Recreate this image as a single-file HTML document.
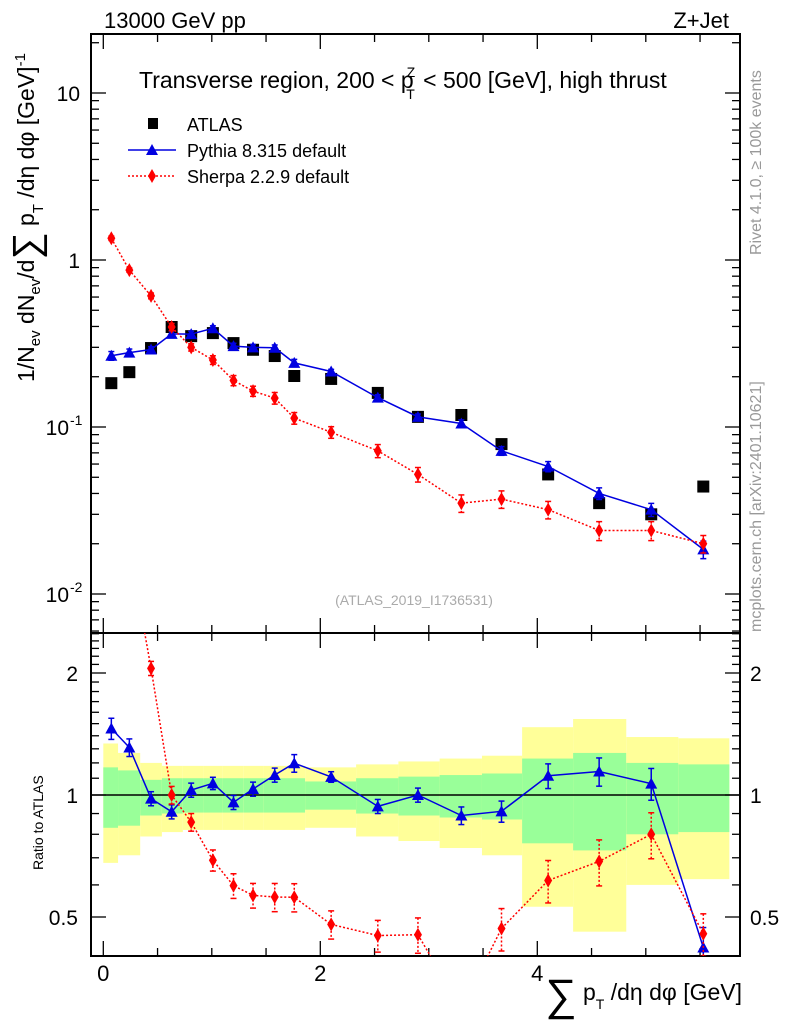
<!DOCTYPE html>
<html><head><meta charset="utf-8"><style>
body{margin:0;background:#fff;}
svg{font-family:"Liberation Sans",sans-serif;}
</style></head><body>
<svg id="c" width="786" height="1024" viewBox="0 0 786 1024" xmlns="http://www.w3.org/2000/svg">
<g id="bands"></g><g id="grid"></g><g id="marks"></g>
<text x="104" y="28" font-size="22">13000 GeV pp</text>
<text x="729" y="28" font-size="22" text-anchor="end">Z+Jet</text>
<text x="139" y="88" font-size="23">Transverse region, 200 &lt; p<tspan font-size="14" dy="-11" dx="-7">Z</tspan><tspan font-size="14" dy="22" dx="-9">T</tspan><tspan dy="-11" dx="2"> &lt; 500 [GeV], high thrust</tspan></text>
<g>
<rect x="148" y="118" width="10" height="11" fill="#000"/>
<text x="187" y="131" font-size="18">ATLAS</text>
<line x1="128" y1="150" x2="176" y2="150" stroke="#0000e0" stroke-width="1.5"/>
<polygon points="146,155 158,155 152,144" fill="#0000e0"/>
<text x="187" y="157" font-size="18">Pythia 8.315 default</text>
<line x1="128" y1="176" x2="176" y2="176" stroke="#f00" stroke-width="1.5" stroke-dasharray="2,2"/>
<polygon points="152,169 156,176 152,183 148,176" fill="#f00"/>
<text x="187" y="183" font-size="18">Sherpa 2.2.9 default</text>
</g>
<text x="414" y="605" font-size="14" fill="#aaa" text-anchor="middle">(ATLAS_2019_I1736531)</text>
<text transform="translate(761,255) rotate(-90)" font-size="16" fill="#999">Rivet 4.1.0, ≥ 100k events</text>
<text transform="translate(761,632) rotate(-90)" font-size="16" fill="#999">mcplots.cern.ch [arXiv:2401.10621]</text>
<text transform="translate(34,382) rotate(-90)" font-size="23">1/N<tspan font-size="15" dy="6">ev</tspan><tspan dy="-6"> dN</tspan><tspan font-size="15" dy="6">ev</tspan><tspan dy="-6">/d</tspan><tspan font-size="38" dy="5">∑</tspan><tspan dy="-5"> p</tspan><tspan font-size="15" dy="9">T</tspan><tspan dy="-9"> /dη dφ  [GeV]</tspan><tspan font-size="15" dy="-9">-1</tspan></text>
<text transform="translate(43,870) rotate(-90)" font-size="14">Ratio to ATLAS</text>
<text x="742" y="1000" font-size="23" text-anchor="end"><tspan font-size="44" dy="10">∑</tspan><tspan dy="-10"> p</tspan><tspan font-size="14" dy="9">T</tspan><tspan dy="-9"> /dη dφ [GeV]</tspan></text>
</svg>
<script>
const edges=[0,0.136,0.34,0.54,0.733,0.92,1.10,1.29,1.48,1.67,1.86,2.33,2.72,3.10,3.49,3.86,4.33,4.82,5.30,5.77];
const xs=[0.074,0.24,0.44,0.63,0.81,1.01,1.20,1.38,1.58,1.76,2.10,2.53,2.90,3.30,3.67,4.10,4.57,5.05,5.53];
const atlas=[0.183,0.213,0.297,0.397,0.35,0.365,0.318,0.29,0.266,0.202,0.194,0.16,0.115,0.118,0.079,0.052,0.035,0.030,0.044];
const pythia=[0.267,0.279,0.291,0.361,0.36,0.39,0.305,0.30,0.298,0.242,0.215,0.150,0.115,0.105,0.072,0.058,0.040,0.032,0.0185];
const pythiaErr=[0.06,0.05,0.04,0.04,0.04,0.035,0.04,0.04,0.04,0.05,0.03,0.04,0.04,0.05,0.06,0.07,0.08,0.09,0.12];
const sherpa=[1.35,0.87,0.61,0.397,0.30,0.252,0.19,0.164,0.149,0.113,0.093,0.072,0.052,0.035,0.037,0.032,0.024,0.024,0.020];
const sherpaErr=[0.03,0.03,0.04,0.05,0.05,0.06,0.07,0.07,0.08,0.08,0.08,0.09,0.10,0.12,0.12,0.12,0.13,0.13,0.12];
const yelHi=[1.34,1.27,1.20,1.18,1.18,1.18,1.18,1.18,1.18,1.18,1.17,1.19,1.21,1.23,1.25,1.47,1.54,1.39,1.38];
const yelLo=[0.68,0.71,0.79,0.81,0.82,0.82,0.82,0.82,0.82,0.82,0.83,0.79,0.77,0.74,0.71,0.53,0.46,0.60,0.62];
const grnHi=[1.17,1.15,1.09,1.10,1.10,1.10,1.10,1.10,1.10,1.10,1.08,1.10,1.11,1.12,1.13,1.23,1.27,1.20,1.19];
const grnLo=[0.83,0.84,0.89,0.90,0.905,0.905,0.905,0.905,0.905,0.905,0.92,0.90,0.89,0.88,0.87,0.76,0.73,0.80,0.81];
const X0=103.3,PX=108.5,L=91,R=740,T=34,MB=633,RB=956;
const sx=v=>X0+v*PX;
const sy=v=>260-Math.log10(v)*167;
const ry=v=>795-Math.log2(v)*122;
const NS="http://www.w3.org/2000/svg";
function mk(tag,attrs,parent){const e=document.createElementNS(NS,tag);for(const k in attrs)e.setAttribute(k,attrs[k]);document.getElementById(parent).appendChild(e);return e;}
for(let i=0;i<xs.length;i++){
 const x1=sx(edges[i]),x2=sx(edges[i+1]);
 let b=mk('rect',{x:x1,y:ry(yelHi[i]),width:x2-x1,height:ry(yelLo[i])-ry(yelHi[i]),fill:'#ffff99'},'bands');
 
 
 b=mk('rect',{x:x1,y:ry(grnHi[i]),width:x2-x1,height:ry(grnLo[i])-ry(grnHi[i]),fill:'#99ff99'},'bands');
 
 
}
const g='grid';
mk('rect',{x:L,y:T,width:R-L,height:MB-T,fill:'none',stroke:'#000','stroke-width':2},g);
mk('rect',{x:L,y:MB,width:R-L,height:RB-MB,fill:'none',stroke:'#000','stroke-width':2},g);
mk('line',{x1:L,x2:R,y1:ry(1),y2:ry(1),stroke:'#000','stroke-width':1.5},g);
for(let v=0;v<=5.75;v+=0.5){const x=sx(v),maj=Math.abs(v%2)<1e-6,len=maj?15:8;
 for(const [a,b] of [[T,T+len],[MB,MB-len],[MB,MB+len],[RB,RB-len]]) mk('line',{x1:x,x2:x,y1:a,y2:b,stroke:'#000','stroke-width':1.3},g);
 if(maj){const t=mk('text',{x:x,y:981,'font-size':22,'text-anchor':'middle'},g);t.textContent=v;}}
for(let d=-3;d<=1;d++)for(let m=1;m<=9;m++){const v=m*Math.pow(10,d),y=sy(v);if(y<T||y>MB)continue;const len=m==1?15:8;
 mk('line',{x1:L,x2:L+len,y1:y,y2:y,stroke:'#000','stroke-width':1.3},g);mk('line',{x1:R,x2:R-len,y1:y,y2:y,stroke:'#000','stroke-width':1.3},g);}
[[10,'10'],[1,'1']].forEach(([v,s])=>{const t=mk('text',{x:80,y:sy(v)+8,'font-size':21,'text-anchor':'end'},g);t.textContent=s;});
[[0.1,'-1'],[0.01,'-2']].forEach(([v,s])=>{const t=mk('text',{x:69,y:sy(v)+8,'font-size':21,'text-anchor':'end'},g);t.textContent='10';const e=mk('text',{x:70,y:sy(v)-2,'font-size':14},g);e.textContent=s;});
for(let v=0.4;v<=2.51;v+=0.1){const y=ry(v);if(y<MB||y>RB)continue;const maj=[0.5,1,2].some(q=>Math.abs(q-v)<1e-6),len=maj?15:8;
 mk('line',{x1:L,x2:L+len,y1:y,y2:y,stroke:'#000','stroke-width':1.3},g);mk('line',{x1:R,x2:R-len,y1:y,y2:y,stroke:'#000','stroke-width':1.3},g);
 if(maj){const s=Math.abs(v-0.5)<1e-6?'0.5':String(Math.round(v));for(const [xx,an] of [[78,'end'],[750,'start']]){const t=mk('text',{x:xx,y:y+8,'font-size':21,'text-anchor':an},g);t.textContent=s;}}}
const defs=mk('defs',{},'marks');
const c1=document.createElementNS(NS,'clipPath');c1.id='cm';defs.appendChild(c1);const r1=document.createElementNS(NS,'rect');r1.setAttribute('x',L);r1.setAttribute('y',T);r1.setAttribute('width',R-L);r1.setAttribute('height',MB-T);c1.appendChild(r1);
const c2=document.createElementNS(NS,'clipPath');c2.id='cr';defs.appendChild(c2);const r2=document.createElementNS(NS,'rect');r2.setAttribute('x',L);r2.setAttribute('y',MB);r2.setAttribute('width',R-L);r2.setAttribute('height',RB-MB);c2.appendChild(r2);
const gm=mk('g',{'clip-path':'url(#cm)',id:'gm'},'marks');
const gr=mk('g',{'clip-path':'url(#cr)',id:'gr'},'marks');
function series(vals,err,yf,col,dash,shape,par,name){
 const pts=xs.map((x,i)=>sx(x)+','+yf(vals[i])).join(' ');
 const pl=mk('polyline',{points:pts,fill:'none',stroke:col,'stroke-width':1.5,'stroke-dasharray':dash},par);
 
 
 xs.forEach((x,i)=>{const X=sx(x),Y=yf(vals[i]),y1=yf(vals[i]*(1+err[i])),y2=yf(vals[i]*(1-err[i]));
  mk('line',{x1:X,x2:X,y1:y1,y2:y2,stroke:col,'stroke-width':1.5,'stroke-dasharray':dash},par);
  mk('line',{x1:X-3,x2:X+3,y1:y1,y2:y1,stroke:col,'stroke-width':1.5},par);mk('line',{x1:X-3,x2:X+3,y1:y2,y2:y2,stroke:col,'stroke-width':1.5},par);
  const p=shape=='tri'?mk('polygon',{points:`${X-6},${Y+5} ${X+6},${Y+5} ${X},${Y-6}`,fill:col},par):mk('polygon',{points:`${X},${Y-7} ${X+4},${Y} ${X},${Y+7} ${X-4},${Y}`,fill:col},par);
  
  });
}
xs.forEach((x,i)=>{const r=mk('rect',{x:sx(x)-6,y:sy(atlas[i])-6,width:12,height:12,fill:'#000'},'gm');
 
 });
series(pythia,pythiaErr,sy,'#0000e0','','tri','gm','pythia');
series(sherpa,sherpaErr,sy,'#f00','2,2','dia','gm','sherpa');
series(pythia.map((v,i)=>v/atlas[i]),pythiaErr,ry,'#0000e0','','tri','gr','pythia-ratio');
series(sherpa.map((v,i)=>v/atlas[i]),sherpaErr,ry,'#f00','2,2','dia','gr','sherpa-ratio');
</script>
</body></html>
